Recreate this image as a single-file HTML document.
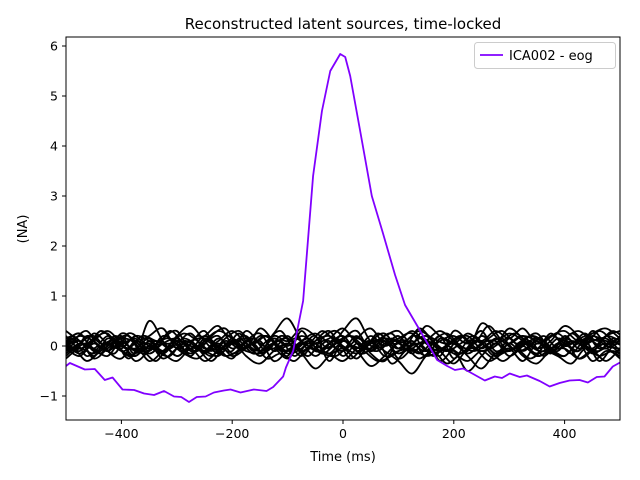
<!DOCTYPE html>
<html><head><meta charset="utf-8"><style>
body{margin:0;background:#fff}
svg{display:block;font-family:"DejaVu Sans","Liberation Sans",sans-serif}
</style></head><body>
<svg id="chart" width="640" height="480">
<rect width="640" height="480" fill="#fff"/>
<text x="343" y="29" font-size="15" text-anchor="middle">Reconstructed latent sources, time-locked</text>
<g id="plot"></g>
<g id="axes"></g>
<text x="343" y="461" font-size="13" text-anchor="middle">Time (ms)</text>
<text transform="translate(27,229) rotate(-90)" font-size="13" text-anchor="middle">(NA)</text>
<g>
<rect x="474.5" y="42.5" width="141" height="26" rx="3" fill="#fff" stroke="#ccc"/>
<line x1="480" y1="55" x2="503" y2="55" stroke="#8000ff" stroke-width="1.8"/>
<text x="509" y="60" font-size="13">ICA002 - eog</text>
</g>
</svg>
<script>
const xTicks=[-400,-200,0,200,400];
const yTicks=[-1,0,1,2,3,4,5,6];
const eogTimes=[-500,-493,-466,-448,-430,-416,-398,-377,-359,-341,-323,-305,-292,-278,-264,-248,-233,-215,-203,-185,-161,-138,-126,-108,-103,-90,-72,-54,-38,-23,-5,4,13,31,52,72,94,112,130,150,170,188,202,217,235,256,274,287,301,319,332,355,373,391,409,427,442,458,472,487,500];
const eogValues=[-0.4,-0.34,-0.47,-0.46,-0.68,-0.63,-0.87,-0.88,-0.95,-0.98,-0.9,-1.01,-1.02,-1.12,-1.02,-1.01,-0.93,-0.89,-0.87,-0.93,-0.87,-0.9,-0.82,-0.61,-0.43,-0.1,0.9,3.4,4.7,5.5,5.84,5.78,5.4,4.3,3.0,2.26,1.42,0.82,0.48,0.1,-0.28,-0.4,-0.48,-0.45,-0.56,-0.69,-0.61,-0.64,-0.55,-0.62,-0.59,-0.7,-0.81,-0.74,-0.69,-0.68,-0.73,-0.62,-0.61,-0.41,-0.33];
const noiseTimes=[-500,-475,-450,-425,-400,-375,-350,-325,-300,-275,-250,-225,-200,-175,-150,-125,-100,-75,-50,-25,0,25,50,75,100,125,150,175,200,225,250,275,300,325,350,375,400,425,450,475,500];
const noiseTimesB=[-512.5,-487.5,-462.5,-437.5,-412.5,-387.5,-362.5,-337.5,-312.5,-287.5,-262.5,-237.5,-212.5,-187.5,-162.5,-137.5,-112.5,-87.5,-62.5,-37.5,-12.5,12.5,37.5,62.5,87.5,112.5,137.5,162.5,187.5,212.5,237.5,262.5,287.5,312.5,337.5,362.5,387.5,412.5,437.5,462.5,487.5,512.5];
const src0=[0.1,0.25,-0.1,0.05,0.2,-0.15,0.5,0.1,-0.2,0.05,0.3,-0.1,0.15,-0.05,0.2,0.1,-0.2,0.3,-0.1,0.05,0.2,-0.1,0.1,0.25,-0.05,0.1,-0.2,0.15,0.05,-0.1,0.45,0.2,-0.1,0.1,0.25,-0.05,0.15,0.3,0.1,-0.05,0.2];
const src1=[-0.2,0.05,0.2,-0.1,-0.25,0.1,-0.05,0.15,0.3,-0.1,0.05,0.2,-0.15,0.1,0.25,-0.1,0.05,-0.2,0.1,0.3,-0.05,0.2,-0.15,-0.3,0.1,0.05,-0.1,0.2,-0.25,0.1,0.05,-0.2,0.15,-0.1,0.1,-0.15,0.2,-0.05,0.1,0.15,-0.1];
const src2=[0.05,-0.15,0.1,0.3,0.05,-0.2,0.1,-0.1,0.2,0.4,0.1,-0.15,0.05,0.2,-0.1,0.25,0.55,0.1,-0.2,0.05,0.15,0.3,-0.1,0.1,-0.05,0.2,0.1,-0.2,0.3,0.1,-0.1,0.05,0.25,0.1,-0.15,0.2,0.05,-0.1,0.3,0.05,0.1];
const src3=[-0.1,0.1,-0.25,-0.05,0.15,0.05,-0.3,-0.1,0.1,-0.2,0.15,-0.05,-0.25,0.1,-0.1,0.05,-0.15,-0.05,0.2,-0.3,0.1,-0.1,-0.4,-0.2,0.05,-0.15,0.1,-0.3,-0.1,-0.5,-0.2,0.05,-0.1,0.1,-0.2,-0.05,0.1,-0.25,-0.1,0.05,-0.15];
const src4=[0.2,-0.05,0.15,0.25,-0.1,0.05,0.2,0.35,-0.05,0.1,0.2,0.4,0.05,0.15,-0.1,0.2,0.1,0.35,0.2,-0.05,0.3,0.55,0.1,0.2,0.3,0.05,0.4,0.2,0.05,0.25,0.1,0.3,0.15,0.35,0.05,0.2,0.3,0.1,0.25,0.35,0.15];
const src5=[-0.05,-0.2,0.05,-0.1,0.05,-0.3,-0.1,0.05,-0.2,-0.05,-0.3,-0.1,0.1,-0.2,-0.35,-0.1,0.05,-0.15,-0.45,-0.2,-0.05,-0.25,0.05,-0.1,-0.3,-0.55,-0.2,-0.05,-0.15,-0.3,-0.1,-0.25,0.05,-0.2,-0.35,-0.1,-0.2,0.05,-0.3,-0.1,-0.2];
const src6=[0.3,0.1,-0.05,0.2,0.05,0.15,-0.1,0.2,0.05,-0.15,0.1,0.3,0.15,-0.05,0.35,0.1,-0.1,0.1,0.25,0.05,-0.1,0.15,0.35,0.05,0.2,-0.1,0.1,0.3,0.1,-0.05,0.2,0.05,0.35,0.15,-0.05,0.1,0.4,0.2,-0.1,0.2,0.3];
const src7=[-0.15,0.05,-0.05,-0.2,0.1,-0.1,0.05,-0.25,-0.05,0.1,-0.15,0.05,-0.2,-0.05,0.1,-0.3,-0.1,0.05,-0.05,0.1,-0.2,0.05,-0.1,0.15,-0.25,-0.05,0.1,-0.1,-0.35,-0.05,0.1,-0.15,-0.05,-0.3,0.05,-0.1,-0.2,0.05,-0.15,-0.05,-0.25];
const src8=[0.05,0.2,0.1,-0.1,0.25,0.1,-0.15,0.05,0.15,-0.05,0.2,0,-0.1,0.3,0.05,-0.05,0.2,-0.1,0.05,0.15,0.35,0.05,-0.05,0.15,0.1,0.3,0.05,-0.1,0.1,0.2,-0.05,0.15,0.05,0.2,0.1,-0.05,0.15,0.05,0.2,0.1,0.05];
const src9=[-0.25,-0.05,-0.15,0.05,-0.1,-0.2,0,-0.15,-0.3,-0.05,-0.1,-0.2,0.05,-0.1,-0.15,-0.05,-0.25,0.05,-0.1,-0.15,-0.3,-0.05,0.1,-0.2,-0.1,-0.05,-0.2,-0.1,0.05,-0.2,-0.45,-0.15,-0.1,0,-0.2,-0.1,-0.05,-0.25,-0.1,-0.3,-0.05];
const src10=[0.1,-0.1,0.25,0.05,-0.05,0.2,0.1,-0.1,0.05,0.25,-0.05,0.1,0.3,0.05,-0.1,0.15,0,0.2,0.05,-0.15,0.1,-0.05,0.2,0,0.15,0.25,-0.1,0.1,0.2,0.05,0.3,-0.1,0.05,0.2,-0.05,0.25,0,0.1,-0.05,0.2,0.1];
const src11=[0,0.1,-0.2,0.15,0,-0.05,0.15,-0.15,0.1,0,-0.1,0.15,-0.05,0.05,-0.2,0.05,0.15,-0.1,0.1,0.2,0,-0.15,0.05,0.1,-0.15,0.05,0.2,-0.05,0.1,-0.15,0.05,0.1,-0.2,0,0.15,-0.1,0.05,-0.1,0.2,0,-0.05];
const src12=[0.15,-0.1,0.2,0.05,-0.15,0.25,0.1,-0.05,0.3,0.05,-0.1,0.2,0.35,0,0.15,-0.1,0.2,0.05,-0.2,0.15,0.3,0,-0.15,0.1,0.25,-0.05,0.15,0.05,-0.1,0.2,0.05,0.4,0.1,-0.05,0.2,0.1,-0.1,0.25,0.05,0.3,0.1,-0.05];
const src13=[-0.1,0.15,-0.2,0,0.1,-0.25,0.05,-0.1,-0.2,0.1,-0.05,-0.3,0,0.1,-0.15,-0.05,0.1,-0.2,0.05,-0.1,0.15,-0.25,0,0.1,-0.35,-0.1,0.05,-0.2,0,-0.15,0.1,-0.05,-0.3,-0.1,0.1,-0.2,0.05,-0.15,0.1,-0.3,0,0.1];
const src14=[0.05,0.2,0,0.3,0.1,-0.05,0.2,0.1,0.05,0.25,0.1,-0.1,0.15,0.3,0.05,0.2,-0.05,0.15,0.05,0.3,0.1,0.2,-0.05,0.25,0.05,0.1,0.3,0.15,0.05,0.2,-0.05,0.15,0.3,0.05,0.2,0.1,0.25,0.05,0.2,0.1,0.3,0.1];
const src15=[-0.2,-0.05,-0.3,-0.1,0.05,-0.2,-0.1,-0.3,0,-0.15,-0.25,-0.05,-0.2,-0.1,0.05,-0.25,-0.15,-0.3,-0.05,-0.15,-0.2,0,-0.1,-0.3,-0.2,-0.05,-0.25,-0.1,-0.35,-0.15,-0.05,-0.3,-0.15,-0.05,-0.25,-0.1,-0.2,-0.35,-0.05,-0.2,-0.1,-0.25];
const src16=[0.1,-0.05,0.05,-0.15,0.2,0,-0.1,0.1,-0.05,0.15,0,-0.2,0.1,-0.05,0.05,0.2,-0.1,0,0.15,-0.05,0.05,0.2,0,-0.1,0.1,0.05,-0.15,0.1,0.25,0,-0.1,0.05,0.15,-0.1,0,0.2,-0.05,0.1,0,-0.1,0.15,0];
const src17=[-0.05,0.1,0.3,-0.05,0.1,0.2,-0.15,0.05,0.15,-0.1,0.2,0.05,-0.05,0.25,-0.1,0.1,0.3,-0.05,0.1,-0.15,0.05,0.2,0.1,-0.05,0.15,0,0.35,0.1,-0.1,0.05,0.2,-0.05,0.1,0.25,0,-0.1,0.15,0.05,0.25,-0.05,0.1,0.2];
const noiseSeries=[src0,src1,src2,src3,src4,src5,src6,src7,src8,src9,src10,src11];
const noiseSeriesB=[src12,src13,src14,src15,src16,src17];

const L=66,R=620,T=37,B=420,XMIN=-500,XMAX=500,YMIN=-1.48,YMAX=6.18;
const sx=v=>L+(v-XMIN)/(XMAX-XMIN)*(R-L);
const sy=v=>B-(v-YMIN)/(YMAX-YMIN)*(B-T);
const NS='http://www.w3.org/2000/svg';
const plot=document.getElementById('plot'),axes=document.getElementById('axes');
function mk(tag,attrs,parent){const e=document.createElementNS(NS,tag);for(const k in attrs)e.setAttribute(k,attrs[k]);parent.appendChild(e);return e;}
function smooth(ts,vs){
 const p=vs.map((v,j)=>[sx(ts[j]),sy(v)]);
 let d='M'+p[0][0]+','+p[0][1];
 for(let i=0;i<p.length-1;i++){
  const p0=p[i-1]||p[i],p1=p[i],p2=p[i+1],p3=p[i+2]||p2;
  const c1=[p1[0]+(p2[0]-p0[0])/6,p1[1]+(p2[1]-p0[1])/6];
  const c2=[p2[0]-(p3[0]-p1[0])/6,p2[1]-(p3[1]-p1[1])/6];
  d+=' C'+c1[0]+','+c1[1]+' '+c2[0]+','+c2[1]+' '+p2[0]+','+p2[1];
 }
 return d;
}
const clip=mk('clipPath',{id:'cp'},plot);mk('rect',{x:L,y:T,width:R-L,height:B-T},clip);
const g=mk('g',{'clip-path':'url(#cp)'},plot);
noiseSeries.forEach((s,i)=>{
 const p=mk('path',{d:smooth(noiseTimes,s),fill:'none',stroke:'#000','stroke-width':1.8,'stroke-linejoin':'round'},g);
 
 
});
noiseSeriesB.forEach((s,i)=>{
 const p=mk('path',{d:smooth(noiseTimesB,s),fill:'none',stroke:'#000','stroke-width':1.8,'stroke-linejoin':'round'},g);
 
 
});
const pe=mk('polyline',{points:eogValues.map((v,j)=>sx(eogTimes[j])+','+sy(v)).join(' '),fill:'none',stroke:'#8000ff','stroke-width':1.8,'stroke-linejoin':'round'},g);


const fr=mk('rect',{x:L,y:T,width:R-L,height:B-T,fill:'none',stroke:'#000','stroke-width':1},axes);


xTicks.forEach(t=>{
 const x=sx(t);mk('line',{x1:x,y1:B,x2:x,y2:B+4,stroke:'#000'},axes);
 const tx=mk('text',{x:x,y:B+18,'font-size':12.5,'text-anchor':'middle'},axes);tx.textContent=(t<0?'\u2212':'')+Math.abs(t);
 
 
});
yTicks.forEach(t=>{
 const y=sy(t);mk('line',{x1:L-4,y1:y,x2:L,y2:y,stroke:'#000'},axes);
 const tx=mk('text',{x:L-8,y:y+4.5,'font-size':12.5,'text-anchor':'end'},axes);tx.textContent=(t<0?'\u2212':'')+Math.abs(t);
 
 
});
</script>
</body></html>
